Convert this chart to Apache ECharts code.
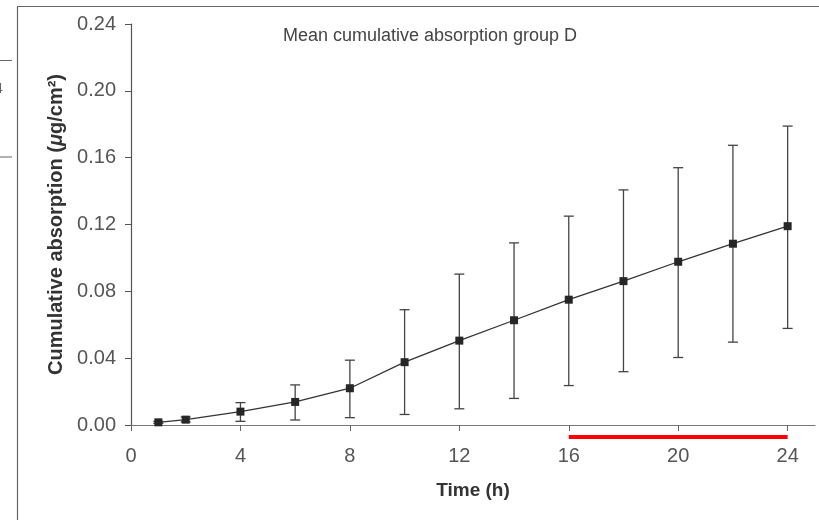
<!DOCTYPE html>
<html>
<head>
<meta charset="utf-8">
<script src="https://cdn.jsdelivr.net/npm/echarts@6/dist/echarts.min.js"></script>
<style>
html,body{margin:0;padding:0;background:#fff;}
#chart{width:819px;height:520px;}
</style>
</head>
<body>
<div id="chart"></div>
<script>
// ---- data ----
var timeH   = [1, 2, 4, 6, 8, 10, 12, 14, 16, 18, 20, 22, 24];
var meanAbs = [0.0016, 0.0032, 0.0080, 0.0138, 0.0220, 0.0376, 0.0505, 0.0627, 0.0750, 0.0861, 0.0977, 0.1085, 0.1190];
var errLow  = [0.0010, 0.0018, 0.0022, 0.0030, 0.0044, 0.0063, 0.0097, 0.0159, 0.0236, 0.0319, 0.0404, 0.0496, 0.0578];
var errHigh = [0.0022, 0.0048, 0.0134, 0.0240, 0.0388, 0.0690, 0.0903, 0.1090, 0.1250, 0.1407, 0.1540, 0.1674, 0.1789];
var xTicks  = [0, 4, 8, 12, 16, 20, 24];
var yTicks  = [0.00, 0.04, 0.08, 0.12, 0.16, 0.20, 0.24];
var redRange = [16, 24];
var titleText = 'Mean cumulative absorption group D';

var font = '"Liberation Sans", Arial, Helvetica, sans-serif';
var chart = echarts.init(document.getElementById('chart'));

var lineData = timeH.map(function (t, i) { return [t, meanAbs[i]]; });
var errData = timeH.map(function (t, i) { return [t, errLow[i], errHigh[i]]; });

var option = {
  animation: false,
  backgroundColor: '#fff',
  title: {
    text: titleText,
    left: 425, top: 22,
    textAlign: 'center',
    textStyle: { fontFamily: font, fontSize: 18, fontWeight: 'normal', color: '#444' }
  },
  grid: { left: 131, right: 4, top: 24, bottom: 95, containLabel: false },
  xAxis: {
    type: 'value', min: 0, max: 25, interval: 4,
    name: 'Time (h)', nameLocation: 'middle', nameGap: 56,
    nameTextStyle: { fontFamily: font, fontSize: 19, fontWeight: 'bold', color: '#333' },
    axisLine: { show: true, onZero: false, lineStyle: { color: '#777', width: 1.2 } },
    axisTick: { show: true, length: 6, customValues: xTicks, lineStyle: { color: '#666', width: 1 } },
    axisLabel: { customValues: xTicks, margin: 21, fontFamily: font, fontSize: 20, color: '#555' },
    splitLine: { show: false }
  },
  yAxis: {
    type: 'value', min: 0, max: 0.24, interval: 0.04,
    name: '{b|Cumulative absorption (}{i|μ}{b|g/cm²)}',
    nameLocation: 'middle', nameGap: 63, nameRotate: 90,
    nameTextStyle: {
      rich: {
        b: { fontFamily: font, fontSize: 20, fontWeight: 'bold', color: '#333' },
        i: { fontFamily: font, fontSize: 20, fontWeight: 'bold', fontStyle: 'italic', color: '#333' }
      }
    },
    axisLine: { show: true, lineStyle: { color: '#555', width: 1.2 } },
    axisTick: { show: true, length: 6, lineStyle: { color: '#555', width: 1 } },
    axisLabel: {
      margin: 15, fontFamily: font, fontSize: 20, color: '#555',
      formatter: function (v) { return v.toFixed(2); }
    },
    splitLine: { show: false }
  },
  series: [
    {
      type: 'custom',
      z: 2,
      renderItem: function (params, api) {
        var x = api.value(0);
        var lo = api.coord([x, api.value(1)]);
        var hi = api.coord([x, api.value(2)]);
        var hw = 5;
        var st = { stroke: '#444', lineWidth: 1.3 };
        return {
          type: 'group',
          children: [
            { type: 'line', shape: { x1: lo[0], y1: lo[1], x2: hi[0], y2: hi[1] }, style: st },
            { type: 'line', shape: { x1: hi[0] - hw, y1: hi[1], x2: hi[0] + hw, y2: hi[1] }, style: st },
            { type: 'line', shape: { x1: lo[0] - hw, y1: lo[1], x2: lo[0] + hw, y2: lo[1] }, style: st }
          ]
        };
      },
      encode: { x: 0, y: [1, 2] },
      data: errData
    },
    {
      type: 'line',
      z: 3,
      data: lineData,
      symbol: 'rect', symbolSize: 8,
      lineStyle: { color: '#333', width: 1.3 },
      itemStyle: { color: '#262626' }
    }
  ]
};
chart.setOption(option);

var x0 = chart.convertToPixel({ xAxisIndex: 0 }, redRange[0]);
var x1 = chart.convertToPixel({ xAxisIndex: 0 }, redRange[1]);
var yAx = chart.convertToPixel({ yAxisIndex: 0 }, 0);
chart.setOption({
  graphic: [
    { type: 'line', shape: { x1: x0, y1: yAx + 12, x2: x1, y2: yAx + 12 }, style: { stroke: '#ff0000', lineWidth: 4 }, z: 10 },
    { type: 'line', shape: { x1: 17, y1: 6.5, x2: 819, y2: 6.5 }, style: { stroke: '#666', lineWidth: 1.2 } },
    { type: 'line', shape: { x1: 17.5, y1: 6, x2: 17.5, y2: 520 }, style: { stroke: '#666', lineWidth: 1.2 } },
    { type: 'line', shape: { x1: 0, y1: 60.5, x2: 12, y2: 60.5 }, style: { stroke: '#666', lineWidth: 1 } },
    { type: 'line', shape: { x1: 0, y1: 157, x2: 12, y2: 157 }, style: { stroke: '#666', lineWidth: 1 } },
    { type: 'text', left: -5, top: 82, style: { text: '4', fontFamily: font, fontSize: 14, fill: '#666' } }
  ]
});
</script>
</body>
</html>
